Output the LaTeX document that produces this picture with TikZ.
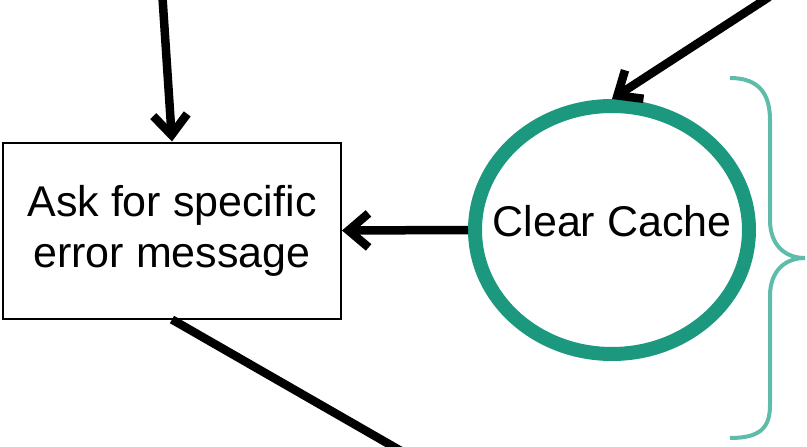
\documentclass[tikz,border=0pt]{standalone}
\usepackage{fontspec}
\setmainfont{Liberation Sans}
\usetikzlibrary{positioning,shapes.geometric,arrows.meta}
\definecolor{cachegreen}{RGB}{27,152,125}
\definecolor{bracegreen}{RGB}{95,188,168}
\tikzset{flow/.style={line width=8.5pt,-{Straight Barb[length=20pt,width=34pt]}},
  plainflow/.style={line width=8.5pt},
  askbox/.style={draw,line width=2pt,minimum width=338pt,minimum height=176pt,align=center,font=\fontsize{43}{51}\selectfont},
  cachering/.style={ellipse,draw=cachegreen,line width=14pt,inner sep=0pt,minimum width=274pt,minimum height=248pt},
  cachetext/.style={text depth=19pt,font=\fontsize{43}{48}\selectfont},
  bracket/.style={draw=bracegreen,line width=4pt}}

\begin{document}
\begin{tikzpicture}[x=1pt,y=-1pt]
    \clip (0,0) rectangle (807,447);
    \node[askbox] (ask) at (172,230.5) {Ask for specific\\error message};
    \node[cachering] (cache) at (612,230) {};
    \node[cachetext] (cachelabel) at (cache.center) {Clear Cache};
    \coordinate (fromtop) at (162,-10);
    \coordinate (fromright) at (769,-3);
    \coordinate (tobelow) at (408,455);
    \draw[flow] (fromtop) -- (ask.north);
    \draw[flow] (fromright) -- (cache.north);
    \draw[flow] (cache.west) -- (ask.east);
    \draw[plainflow] (ask.south) -- (tobelow);
    % brace on the right
    \draw[bracket] (730,78) .. controls (760,78) and (770,95) .. (770,120) -- (770,220)
        .. controls (770,245) and (785,258) .. (805,258)
        .. controls (785,258) and (770,271) .. (770,296) -- (770,405)
        .. controls (770,428) and (760,438) .. (730,438);
\end{tikzpicture}
\end{document}
